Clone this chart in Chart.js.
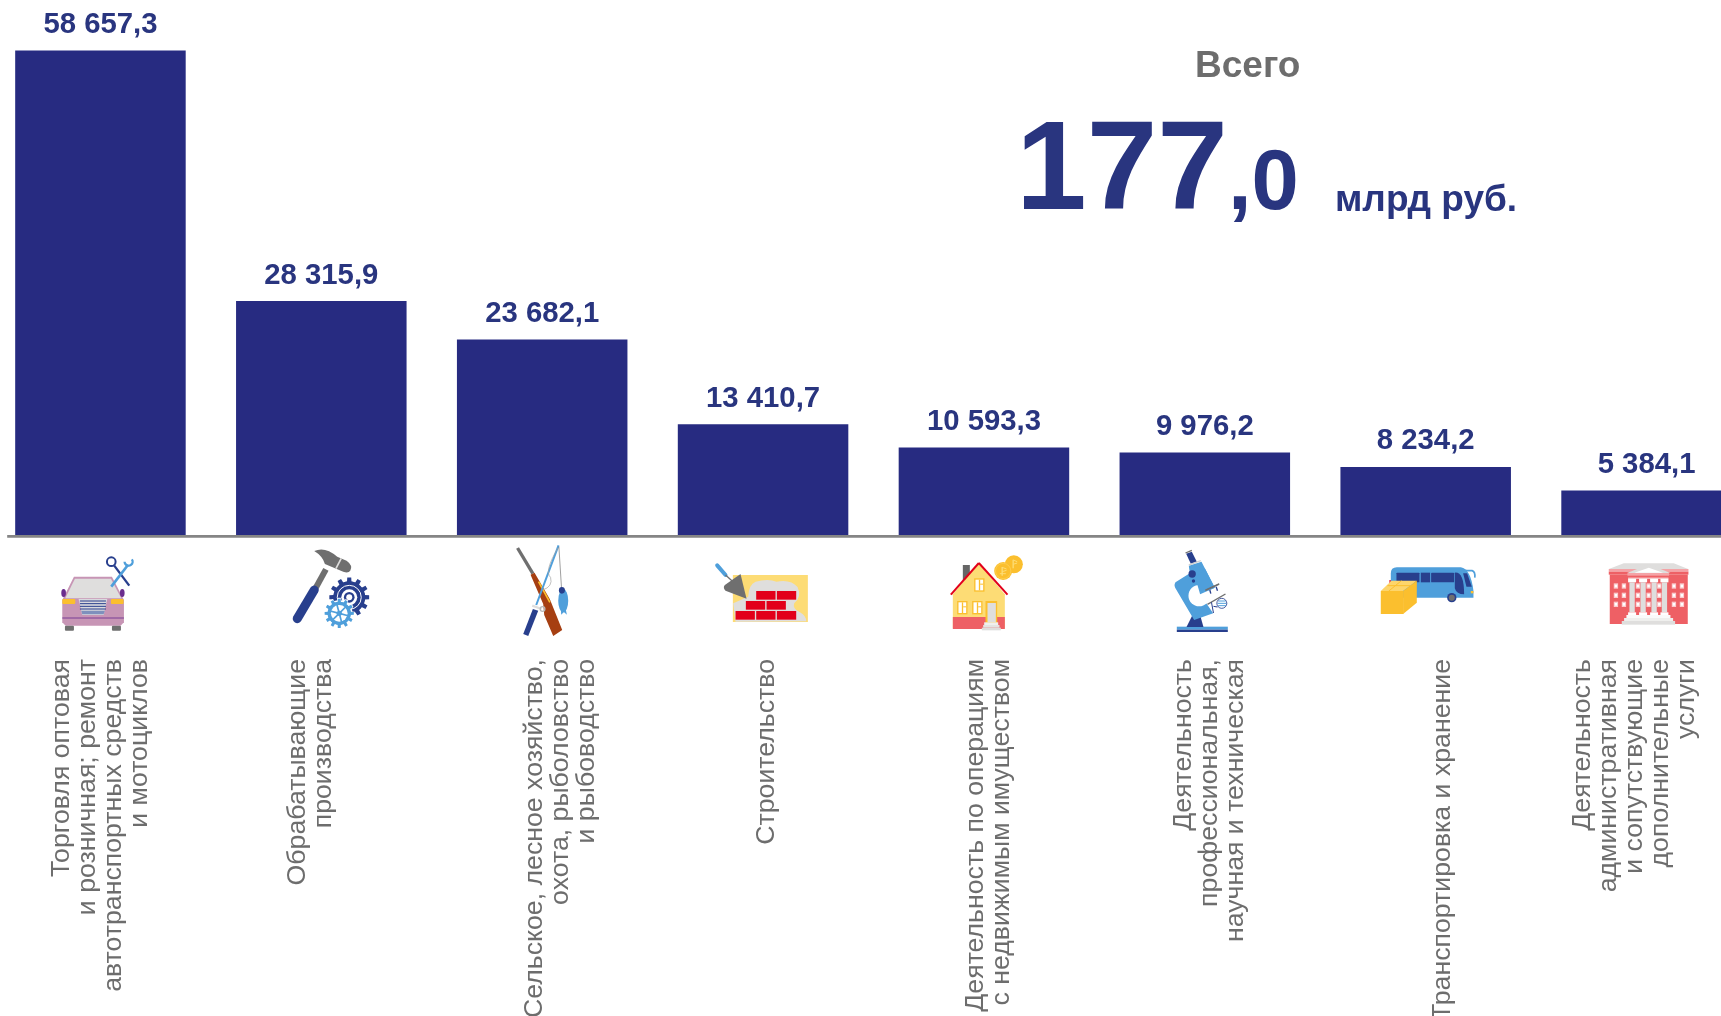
<!DOCTYPE html>
<html lang="ru">
<head>
<meta charset="utf-8">
<title>Всего 177,0 млрд руб.</title>
<style>
html,body{margin:0;padding:0;background:#fff;overflow:hidden}
#c{display:block;width:1721px;height:1016px}
</style>
<script src="https://cdn.jsdelivr.net/npm/chart.js@4/dist/chart.umd.min.js"></script>
</head>
<body>
<canvas id="c" width="1721" height="1016"></canvas>
<script>
const categories = [
  ["Торговля оптовая","и розничная; ремонт","автотранспортных средств","и мотоциклов"],
  ["Обрабатывающие","производства"],
  ["Сельское, лесное хозяйство,","охота, рыболовство","и рыбоводство"],
  ["Строительство"],
  ["Деятельность по операциям","с недвижимым имуществом"],
  ["Деятельность","профессиональная,","научная и техническая"],
  ["Транспортировка и хранение"],
  ["Деятельность","административная","и сопутствующие","дополнительные","услуги"]
];
const values = [58657.3, 28315.9, 23682.1, 13410.7, 10593.3, 9976.2, 8234.2, 5384.1];
const totalLabel = "Всего";
const totalWhole = "177";
const totalFraction = ",0";
const totalUnit = "млрд руб.";

const FONT = '"Liberation Sans", Arial, sans-serif';
const NAVY_BAR = '#272B81', NAVY_TEXT = '#29357F', GREY_TEXT = '#6D6D6D';
const BLUE='#4F9FDB', DEEP='#283F8D', GOLD='#FBBF2E', SAND='#FDDC75', STONE='#DFDEDD',
      RED='#E2001A', SALMON='#EE6065', SLATE='#6F6F6F', BROWN='#A63F12', PINK='#C795B5', PURPLE='#6B2D8E';

// Horizontal shift of each label block from its bar centre
const labelShift = [0, -11, 18, 3.5, 5, 4.5, 17, -11.5];
const lineHeightPx = 26;
// The axis runs past both edges of the picture: the last bar is cut by the right edge
const axisOverrun = {left:10, right:36};

function fmt(v){
  const [a,b] = v.toFixed(1).split('.');
  return a.replace(/\B(?=(\d{3})+$)/g,' ') + ',' + b;
}

// ---- small drawing helpers; all icon shapes live in a 3x local grid
function poly(c,col,p){c.fillStyle=col;c.beginPath();p.forEach((q,i)=>i?c.lineTo(q[0],q[1]):c.moveTo(q[0],q[1]));c.closePath();c.fill();}
function box(c,col,x0,y0,x1,y1){c.fillStyle=col;c.fillRect(x0,y0,x1-x0,y1-y0);}
function disc(c,col,x,y,r){c.fillStyle=col;c.beginPath();c.arc(x,y,r,0,Math.PI*2);c.fill();}
function ring(c,col,x,y,r,w){c.strokeStyle=col;c.lineWidth=w;c.beginPath();c.arc(x,y,r,0,Math.PI*2);c.stroke();}
function seg(c,col,w,x0,y0,x1,y1,cap){c.strokeStyle=col;c.lineWidth=w;c.lineCap=cap||'butt';c.beginPath();c.moveTo(x0,y0);c.lineTo(x1,y1);c.stroke();c.lineCap='butt';}
function rbox(c,col,x0,y0,x1,y1,r){c.fillStyle=col;c.beginPath();c.roundRect(x0,y0,x1-x0,y1-y0,r);c.fill();}
function gear(c,col,x,y,ro,ri,n){
  c.fillStyle=col;c.beginPath();
  for(let i=0;i<n;i++){
    const a=i*2*Math.PI/n, w=Math.PI/n*0.55, s=Math.PI/n*0.38;
    [[a-w,ri],[a-s,ro],[a+s,ro],[a+w,ri]].forEach(q=>c.lineTo(x+q[1]*Math.cos(q[0]),y+q[1]*Math.sin(q[0])));
  }
  c.closePath();c.fill();
}

const icons = [
  function car(c){
    poly(c,PINK,[[72,95],[186,95],[222,165],[222,232],[212,242],[47,242],[37,232],[37,165]]);
    poly(c,STONE,[[75,101],[183,101],[214,160],[46,160]]);
    c.fillStyle=PURPLE;
    c.beginPath();c.ellipse(41,144,7,12,0,0,7);c.fill();c.beginPath();c.ellipse(217,144,7,12,0,0,7);c.fill();
    rbox(c,GOLD,37,162,76,177,3);rbox(c,GOLD,183,162,221,177,3);
    poly(c,'#D9D9DE',[[86,162],[172,162],[161,210],[97,210]]);
    [168,176,184,192].forEach(y=>seg(c,DEEP,3,90,y,168,y));
    poly(c,'#7E90BD',[[94,197],[165,197],[161,208],[97,208]]);
    seg(c,PURPLE,2.5,37,219,222,219);
    rbox(c,SLATE,45,242,72,257,3);rbox(c,SLATE,186,242,213,257,3);
    seg(c,DEEP,7,193,62,238,122);ring(c,DEEP,184,50,13,6);
    seg(c,BLUE,8,184,125,234,60);
    c.strokeStyle=BLUE;c.lineWidth=7;c.beginPath();c.arc(236,50,12,-0.2*Math.PI,1.0*Math.PI,false);c.stroke();
  },
  function tools(c){
    seg(c,SLATE,18,138,88,104,150);
    seg(c,DEEP,27,103,150,52,236,'round');
    c.fillStyle=SLATE;c.beginPath();c.moveTo(103,33);c.quadraticCurveTo(135,18,172,50);c.lineTo(200,62);
    c.quadraticCurveTo(220,76,211,92);c.quadraticCurveTo(205,101,190,95);c.lineTo(135,72);c.quadraticCurveTo(128,48,103,33);c.fill();
    seg(c,STONE,5,184,55,168,86);
    gear(c,DEEP,208,172,60,47,12);disc(c,DEEP,208,172,48);
    ring(c,'#FFFFFF',208,172,36,3);disc(c,'#FFFFFF',208,172,24);disc(c,DEEP,208,172,16);disc(c,'#FFFFFF',208,172,9);
    gear(c,'#FFFFFF',178,220,47,40,12);
    gear(c,BLUE,178,220,44,34,12);disc(c,BLUE,178,220,35);disc(c,'#FFFFFF',178,220,25);
    for(let i=0;i<6;i++){const a=i*Math.PI/3+.26;seg(c,BLUE,5,178,220,178+28*Math.cos(a),220+28*Math.sin(a));}
    disc(c,BLUE,178,220,8);
  },
  function fishing(c){
    seg(c,SLATE,10,53,24,99,101);
    poly(c,BROWN,[[92,104],[104,98],[150,178],[156,193],[187,270],[160,288],[133,225],[130,192]]);
    seg(c,GOLD,5,116,125,150,187);
    seg(c,BLUE,6,176,16,109,195);
    poly(c,DEEP,[[99,207],[115,212],[85,288],[70,282]]);
    seg(c,STONE,7,97,197,125,207);
    ring(c,'#B9B9B9',128,207,7,4);
    seg(c,SLATE,2,177,20,185,146);
    c.strokeStyle='#A0A0A0';c.lineWidth=2;c.beginPath();c.moveTo(174,24);c.quadraticCurveTo(132,95,152,112);c.quadraticCurveTo(160,140,128,150);c.stroke();
    c.fillStyle=BLUE;c.beginPath();c.ellipse(190,182,15,35,0,0,7);c.fill();
    poly(c,BLUE,[[183,210],[198,210],[201,224],[192,216],[184,224]]);
    c.fillStyle=DEEP;c.beginPath();c.ellipse(186,151,9,10,0,0,7);c.fill();
  },
  function bricks(c){
    box(c,SAND,84,60,309,201);
    c.fillStyle=STONE;c.beginPath();c.moveTo(85,145);c.lineTo(130,125);c.quadraticCurveTo(132,88,152,80);c.quadraticCurveTo(190,70,215,80);
    c.quadraticCurveTo(258,72,278,96);c.quadraticCurveTo(292,125,268,145);c.quadraticCurveTo(262,162,285,172);c.quadraticCurveTo(304,182,304,199);c.lineTo(92,200);c.closePath();c.fill();
    [[154,108,212,134],[216,108,274,134],[123,138,181,164],[185,138,243,164],[92,168,150,194],[154,168,212,194],[216,168,274,194]]
      .forEach(b=>box(c,RED,b[0],b[1],b[2],b[3]));
    seg(c,BLUE,12,37,31,62,60,'round');seg(c,SLATE,4,62,60,82,78);
    c.fillStyle=SLATE;c.beginPath();c.moveTo(107,57);c.lineTo(125,131);c.lineTo(62,107);c.quadraticCurveTo(53,98,60,90);c.closePath();c.fill();
  },
  function house(c){
    disc(c,GOLD,222,58,27);disc(c,GOLD,190,78,27);
    ring(c,'#FFD96A',190,78,23,1.5);
    seg(c,'#FDDC75',4,187,66,187,92);seg(c,'#FDDC75',3,187,67,200,72);seg(c,'#FDDC75',3,187,80,200,76);seg(c,'#FDDC75',3,180,86,198,86);
    seg(c,'#FDDC75',4,220,44,220,70);seg(c,'#FDDC75',3,220,45,232,50);seg(c,'#FDDC75',3,220,58,232,54);
    box(c,'#666666',69,60,90,105);
    poly(c,SAND,[[117,55],[195,148],[195,250],[39,250],[39,148]]);
    box(c,SALMON,39,216,195,252);
    seg(c,RED,6,33,149,117,54);seg(c,RED,6,117,54,203,149);
    [[103,100,134,140],[52,168,83,208],[97,168,128,208]].forEach(w=>{
      box(c,GOLD,w[0],w[1],w[2],w[3]);box(c,'#FFFFFF',w[0]+4,w[1]+4,w[2]-4,w[3]-4);
      box(c,GOLD,w[0]+14,w[1]+4,w[0]+18,w[3]-4);box(c,GOLD,w[0]+18,w[1]+16,w[2]-4,w[1]+19);
    });
    box(c,GOLD,137,168,172,236);box(c,STONE,143,174,168,232);
    box(c,'#F0F0EE',133,232,175,240);box(c,'#E4E4E2',130,240,179,248);box(c,STONE,126,248,183,256);
  },
  function microscope(c){
    box(c,BLUE,36,245,189,254);box(c,DEEP,36,254,189,261);
    poly(c,DEEP,[[65,246],[82,212],[105,207],[116,246]]);
    c.fillStyle=BLUE;c.beginPath();c.moveTo(32,112);c.lineTo(75,85);c.lineTo(72,62);c.lineTo(110,50);c.lineTo(150,128);c.lineTo(106,148);
    c.lineTo(145,205);c.lineTo(88,225);c.lineTo(35,135);c.quadraticCurveTo(25,122,32,112);c.closePath();c.fill();
    disc(c,'#FFFFFF',103,152,32);
    poly(c,BLUE,[[92,100],[120,70],[150,128],[106,148]]);
    poly(c,DEEP,[[64,26],[81,20],[96,50],[78,56]]);
    seg(c,SLATE,4,62,24,81,16);seg(c,'#D0D0D0',4,72,60,108,47);
    disc(c,DEEP,82,87,11);disc(c,DEEP,86,108,5);
    seg(c,SLATE,5,122,136,163,117);
    seg(c,DEEP,4,135,135,138,146);seg(c,DEEP,4,154,125,158,137);seg(c,SLATE,3,122,136,163,117);
    seg(c,SLATE,4,128,178,182,147);
    seg(c,DEEP,3,140,172,146,204);seg(c,DEEP,3,146,184,158,186);
    disc(c,'#FFFFFF',171,175,15);
    seg(c,BLUE,3,160,168,183,168);seg(c,BLUE,3,158,175,185,175);seg(c,BLUE,3,160,182,183,182);
    ring(c,DEEP,171,175,15,2.5);
  },
  function bus(c){
    box(c,RED,44,75,48,88);
    c.fillStyle=BLUE;c.beginPath();c.moveTo(48,56);c.quadraticCurveTo(48,37,66,37);c.lineTo(258,37);c.quadraticCurveTo(288,42,296,108);c.lineTo(296,128);c.lineTo(48,128);c.closePath();c.fill();
    rbox(c,DEEP,65,53,134,82,2);box(c,DEEP,138,53,166,82);rbox(c,DEEP,169,53,238,82,2);
    c.fillStyle=DEEP;c.beginPath();c.moveTo(240,53);c.quadraticCurveTo(268,50,268,118);c.quadraticCurveTo(245,118,240,100);c.closePath();c.fill();
    poly(c,DEEP,[[265,55],[277,55],[291,95],[275,95]]);
    c.strokeStyle=BLUE;c.lineWidth=5;c.beginPath();c.moveTo(272,47);c.lineTo(292,47);c.quadraticCurveTo(302,50,300,68);c.stroke();
    box(c,GOLD,288,108,296,115);
    disc(c,DEEP,231,128,14);disc(c,SLATE,231,128,9);
    poly(c,'#FDD56B',[[18,108],[50,77],[126,77],[85,108]]);
    seg(c,GOLD,3,80,77,42,108);seg(c,GOLD,3,38,92,108,92);
    box(c,GOLD,18,108,86,177);
    poly(c,GOLD,[[85,108],[126,77],[126,143],[85,177]]);
  },
  function building(c){
    poly(c,STONE,[[72,25],[222,25],[265,42],[27,42]]);
    box(c,'#F4A3A6',27,42,266,50);box(c,SALMON,27,50,266,59);box(c,SALMON,30,59,264,207);
    poly(c,STONE,[[147,28],[212,54],[82,54]]);
    poly(c,'#FFFFFF',[[147,38],[190,53],[104,53]]);
    box(c,'#F4A3A6',83,54,208,62);box(c,'#FBE3E3',85,68,206,71);
    [85,118,151,182].forEach(x=>{box(c,'#FFFFFF',x,71,x+24,82);box(c,STONE,x+4,82,x+20,172);box(c,'#FFFFFF',x,172,x+24,180);});
    [42,66,108,140,172,216,240].forEach(x=>[85,113,140].forEach(y=>{box(c,'#FBC9CB',x,y,x+13,y+16);box(c,'#FFFFFF',x+3,y+4,x+10,y+12);}));
    box(c,'#FAFAFA',80,180,212,189);box(c,'#EFEFED',73,189,220,198);box(c,STONE,66,198,226,209);
  }
];
// Crop origin of each icon grid relative to bar centre / axis line
const iconOffset = [[-50.5,10],[-41.4,5],[-42.3,5],[-58.2,20],[-44.1,10],[-40,10],[-50.9,20],[-46.8,20]];

const decor = {
  id:'decor',
  afterLayout(chart){
    const xs = chart.scales.x;
    xs.left = chart.chartArea.left - axisOverrun.left;
    xs.right = chart.chartArea.right + axisOverrun.right;
    xs.width = xs.right - xs.left;
    xs.configure();
  },
  beforeDraw(chart){
    const xs = chart.scales.x;
    xs.getLabelItems().forEach((it,i)=>{
      const n = Array.isArray(it.label) ? it.label.length : 1;
      it.options.translation[0] = xs.getPixelForTick(i) + labelShift[i];
      it.textOffset = -(n-1)/2*lineHeightPx;
      it.options.textAlign = 'right';
      it.options.textBaseline = 'middle';
    });
  },
  afterDatasetsDraw(chart){
    const c = chart.ctx, xs = chart.scales.x, ys = chart.scales.y;
    const meta = chart.getDatasetMeta(0), axisY = ys.getPixelForValue(0);
    c.save();
    // axis line, starting a little before the first bar
    const first = meta.data[0];
    c.strokeStyle='#858585';c.lineWidth=2.6;c.beginPath();
    c.moveTo(first.x-first.width/2-8,axisY+1.4);c.lineTo(chart.width,axisY+1.4);c.stroke();
    // value labels
    c.font='bold 29.3px '+FONT;c.fillStyle=NAVY_TEXT;c.textAlign='center';c.textBaseline='alphabetic';
    meta.data.forEach((b,i)=>c.fillText(fmt(values[i]),b.x,b.y-17.5));
    // icons
    icons.forEach((draw,i)=>{
      c.save();
      c.translate(xs.getPixelForTick(i)+iconOffset[i][0],axisY+iconOffset[i][1]);
      c.scale(1/3,1/3);
      draw(c);
      c.restore();
    });
    // total block
    c.textAlign='left';
    c.font='bold 37px '+FONT;c.fillStyle=GREY_TEXT;c.fillText(totalLabel,1195,77);
    c.fillStyle=NAVY_TEXT;
    c.font='bold 127px '+FONT;c.fillText(totalWhole,1016,209);
    c.font='bold 85px '+FONT;c.fillText(totalFraction,1228,209);
    c.font='bold 37px '+FONT;c.fillText(totalUnit,1335,211);
    c.restore();
  }
};

new Chart(document.getElementById('c'),{
  type:'bar',
  data:{labels:categories,datasets:[{data:values,backgroundColor:NAVY_BAR,borderWidth:0,categoryPercentage:1,barPercentage:0.772}]},
  plugins:[decor],
  options:{
    responsive:false,animation:false,
    layout:{padding:0},
    plugins:{legend:{display:false},title:{display:false},tooltip:{enabled:false}},
    scales:{
      x:{
        grid:{display:false,drawTicks:false},border:{display:false},
        afterFit(s){s.height=481;s.paddingLeft=0;s.paddingRight=0;},
        ticks:{autoSkip:false,minRotation:90,maxRotation:90,padding:124,color:GREY_TEXT,
               font:{family:FONT,size:26.7,lineHeight:lineHeightPx+'px'}}
      },
      y:{display:false,min:0,max:64770,grid:{display:false}}
    }
  }
});
</script>
</body>
</html>
